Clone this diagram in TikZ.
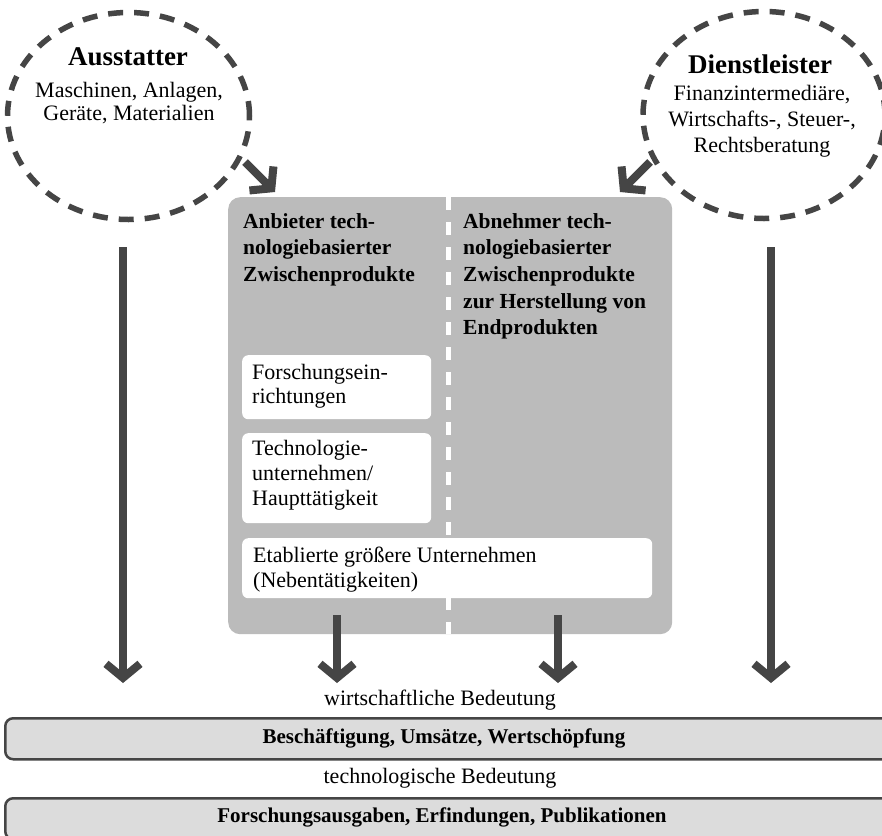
\documentclass[tikz,border=0pt]{standalone}
\usepackage{fontspec}
\setmainfont{Liberation Serif}
\usetikzlibrary{arrows.meta,shapes.geometric}
\definecolor{dg}{HTML}{454545}
\definecolor{boxgray}{HTML}{BBBBBB}
\definecolor{barfill}{HTML}{DCDCDC}
\begin{document}
\begin{tikzpicture}[x=1pt,y=-1pt,
  dashell/.style={ellipse, draw=dg, line width=5.5pt, dash pattern=on 15pt off 11pt, minimum width=242pt, minimum height=207pt, inner sep=0pt},
  titletxt/.style={font=\bfseries\fontsize{27pt}{30pt}\selectfont, anchor=base, inner sep=0pt},
  bodytxt/.style={font=\fontsize{22pt}{23pt}\selectfont, align=center, anchor=base, inner sep=0pt},
  hdrtxt/.style={font=\bfseries\fontsize{21.5pt}{26.7pt}\selectfont, align=left, anchor=base west, inner sep=0pt},
  boxtxt/.style={font=\fontsize{22pt}{25pt}\selectfont, align=left, anchor=base west, inner sep=0pt},
  wbox/.style={fill=white, rounded corners=6pt, anchor=north west, inner sep=0pt},
  barbox/.style={draw=dg, line width=2.5pt, fill=barfill, rounded corners=8pt, anchor=north west, inner sep=0pt},
  bartxt/.style={font=\bfseries\fontsize{21pt}{24pt}\selectfont, anchor=base, inner sep=0pt},
  midtxt/.style={font=\fontsize{22pt}{24pt}\selectfont, anchor=base, inner sep=0pt},
  bigarrow/.style={draw=dg, line width=8pt, -{Straight Barb[length=14pt, width=34pt]}},
  divider/.style={draw=white, line width=5pt, dash pattern=on 13pt off 12pt}
]
\useasboundingbox (0,0) rectangle (882,835);
\clip (0,0) rectangle (882,835);
\fill[white] (0,0) rectangle (882,835);

% circles
\node[dashell] (aus) at (128.5,116) {};
\node[dashell] (die) at (764,115) {};
\node[titletxt] (aust) at (128,65) {Ausstatter};
\node[bodytxt] (ausb) at (129,120) {Maschinen, Anlagen,\\Geräte, Materialien};
\node[titletxt] (diet) at (760,73) {Dienstleister};
\node[bodytxt, font=\fontsize{22pt}{26pt}\selectfont] (dieb) at (762,152) {Finanzintermediäre,\\Wirtschafts-, Steuer-,\\Rechtsberatung};

% main box
\node[fill=boxgray, rounded corners=12pt, minimum width=444pt, minimum height=437pt, anchor=north west, inner sep=0pt] (main) at (228,197) {};
\coordinate (dtop) at (448,197);
\coordinate (dbot) at (448,634);
\draw[divider] (dtop) -- (dbot);

\node[hdrtxt] (anb) at (243,281.4) {Anbieter tech-\\nologiebasierter\\Zwischenprodukte};
\node[hdrtxt] (abn) at (463,334.8) {Abnehmer tech-\\nologiebasierter\\Zwischenprodukte\\zur Herstellung von\\Endprodukten};

\node[wbox, minimum width=189pt, minimum height=64pt] (fe) at (242,355) {};
\node[boxtxt, font=\fontsize{22pt}{24pt}\selectfont] (fet) at (252,403) {Forschungsein-\\richtungen};
\node[wbox, minimum width=189pt, minimum height=90pt] (tu) at (242,433) {};
\node[boxtxt] (tut) at (252,505) {Technologie-\\unternehmen/\\Haupttätigkeit};
\node[wbox, minimum width=410pt, minimum height=60pt] (eu) at (242,538) {};
\node[boxtxt] (eut) at (253,587) {Etablierte größere Unternehmen\\(Nebentätigkeiten)};

% arrows
\coordinate (da1) at (245,162); \coordinate (da2) at (275,192);
\coordinate (db1) at (650,162); \coordinate (db2) at (620,192);
\coordinate (la1) at (123,247); \coordinate (la2) at (123,683);
\coordinate (ra1) at (771,247); \coordinate (ra2) at (771,683);
\coordinate (ma1) at (337,615); \coordinate (ma2) at (337,683);
\coordinate (mb1) at (558,615); \coordinate (mb2) at (558,683);
\draw[bigarrow] (da1) -- (da2);
\draw[bigarrow] (db1) -- (db2);
\draw[bigarrow] (la1) -- (la2);
\draw[bigarrow] (ra1) -- (ra2);
\draw[bigarrow] (ma1) -- (ma2);
\draw[bigarrow] (mb1) -- (mb2);

% bottom
\node[midtxt] (wb) at (440,705.5) {wirtschaftliche Bedeutung};
\node[barbox, minimum width=890pt, minimum height=41pt] (b1) at (4,717) {};
\node[bartxt] (b1t) at (444,743) {Beschäftigung, Umsätze, Wertschöpfung};
\node[midtxt] (tb) at (440,783) {technologische Bedeutung};
\node[barbox, minimum width=890pt, minimum height=41pt] (b2) at (4,797) {};
\node[bartxt] (b2t) at (442,822) {Forschungsausgaben, Erfindungen, Publikationen};
\end{tikzpicture}
\end{document}
